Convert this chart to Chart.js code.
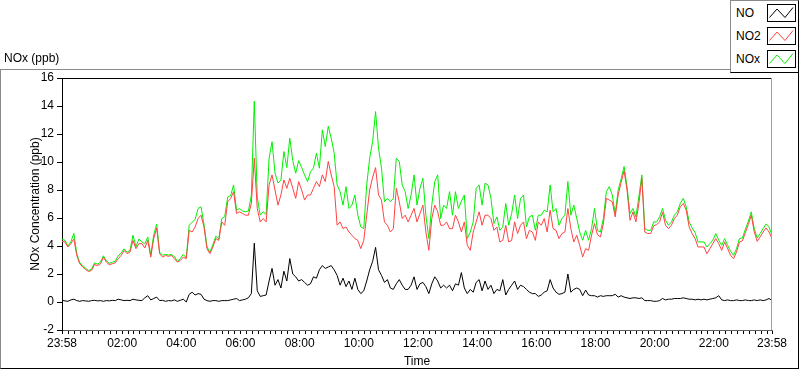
<!DOCTYPE html>
<html>
<head>
<meta charset="utf-8">
<script src="https://cdn.jsdelivr.net/npm/chart.js@4.4.0/dist/chart.umd.min.js"></script>
<style>
html, body { margin: 0; padding: 0; background: #fff; }
body { width: 800px; height: 369px; position: relative; overflow: hidden; font-family: "Liberation Sans", Arial, sans-serif; font-size: 12px; color: #000; }
#frame { position: absolute; left: 0; top: 69px; width: 799px; height: 300px; box-sizing: border-box; border-top: 1px solid #8a8a8a; border-left: 1px solid #8a8a8a; border-right: 1px solid #000; border-bottom: 1px solid #000; }
#chart { position: absolute; left: 0; top: 0; }
#title { position: absolute; left: 4px; top: 51px; }
#legend { position: absolute; left: 730px; top: 0; width: 69px; height: 73px; box-sizing: border-box; background: #fff; border-top: 1px solid #8a8a8a; border-left: 1px solid #8a8a8a; border-right: 1px solid #000; border-bottom: 1px solid #000; }
.row { position: absolute; left: 5px; width: 62px; height: 18px; }
.row span { position: absolute; left: 0; top: 2px; line-height: 14px; }
.row svg { position: absolute; left: 31px; top: 0; }
</style>
</head>
<body>
<div id="frame"></div>
<canvas id="chart" width="800" height="369"></canvas>
<div id="title">NOx (ppb)</div>
<div id="legend"></div>
<script>
// one reading every 6 minutes, first one at 23:58
const STEP_MIN = 6;

const tickMinutes = [0, 122, 242, 362, 482, 602, 722, 842, 962, 1082, 1202, 1322, 1440];
const tickLabels = ['23:58', '02:00', '04:00', '06:00', '08:00', '10:00', '12:00', '14:00', '16:00', '18:00', '20:00', '22:00', '23:58'];

const seriesNames = ['NO', 'NO2', 'NOx'];
const seriesColors = ['#000000', '#ff4242', '#00f000'];

const no = [
  0.12, 0.08, 0.05, 0.15, 0.2, 0.1, 0.05, 0.1, 0.08, 0.05, 0.1, 0.12, 0.08, 0.1, 0.05, 0.1, 0.08, 0.12, 0.1, 0.2,
  0.15, 0.1, 0.12, 0.1, 0.2, 0.15, 0.12, 0.1, 0.3, 0.45, 0.15, 0.25, 0.35, 0.1, 0.12, 0.05, 0.1, 0.08, 0.15, 0.05,
  0.12, 0.2,
  0.0, 0.55, 0.7, 0.5, 0.6, 0.55, 0.2, 0.1, 0.05, 0.1, 0.1, 0.05, 0.1, 0.1, 0.1, 0.15, 0.2, 0.25, 0.1, 0.15,
  0.2, 0.3, 0.6, 4.2, 0.8, 0.4, 0.45, 0.5, 1.5, 2.4, 1.2, 1.6, 1.0, 2.2, 1.5, 3.1, 2.0, 1.8, 1.5, 1.6,
  1.4, 1.2, 1.3, 1.8, 1.7, 2.3, 2.6, 2.4, 2.5, 2.6, 2.3, 1.9, 1.2, 1.7, 1.1, 1.5, 0.9, 1.7, 0.9, 0.6,
  0.8, 1.5, 2.3, 2.9, 3.9, 2.3, 1.9, 1.4, 1.6, 1.0, 0.9, 1.3, 1.6, 1.2, 0.9, 0.9, 1.2, 1.8, 0.9, 1.3, 1.4,
  1.1, 0.6, 1.3, 1.8, 1.5, 1.0, 1.2, 1.0, 1.2, 0.8, 1.3, 1.2, 2.1, 1.0, 0.6, 0.9, 0.7, 1.4, 1.6, 0.8,
  1.5, 0.9, 1.2, 0.6, 0.9, 0.8, 1.6, 0.5, 0.9, 1.2, 1.5, 0.9, 1.2, 1.1, 0.9, 0.7, 0.6, 0.6, 0.4, 0.5, 0.7,
  0.8, 1.6, 1.0, 0.7, 0.55, 0.6, 0.7, 2.0, 0.7, 0.9, 1.0, 0.9, 0.45, 0.85, 0.5, 0.45, 0.45, 0.35, 0.45, 0.4,
  0.45, 0.45, 0.45, 0.55, 0.35, 0.45, 0.35, 0.3, 0.25, 0.3, 0.3, 0.25, 0.3, 0.1, 0.1, 0.1, 0.05, 0.05, 0.1, 0.25,
  0.15, 0.2, 0.2, 0.25, 0.25, 0.25, 0.3, 0.25, 0.2, 0.2, 0.15, 0.2, 0.15, 0.2, 0.15, 0.2, 0.25, 0.3, 0.45, 0.15,
  0.1, 0.15, 0.1, 0.1, 0.15, 0.1, 0.1, 0.15, 0.1, 0.1, 0.15, 0.1, 0.15, 0.1, 0.15, 0.25, 0.1
];

const no2 = [
  4.33, 4.29, 3.93, 4.17, 4.5, 3.33, 2.73, 2.5, 2.32, 2.18, 2.25, 2.68, 2.6, 2.73, 3.2, 2.85, 2.66, 2.73, 2.8, 3.09,
  3.33, 3.69, 3.45, 3.57, 4.4, 3.81, 4.17, 4.17, 3.86, 4.4, 3.2, 4.53, 5.29, 3.45, 3.2, 3.33, 3.26, 3.33, 3.09, 2.85,
  2.97, 3.2,
  3.09, 5.12, 5.0, 5.36, 5.96, 6.2, 5.36, 3.81, 3.45, 3.93, 4.53, 4.4, 5.72, 5.48, 7.16, 7.4, 7.88, 6.32, 6.44, 6.32,
  6.2, 6.2, 7.04, 10.27, 6.68, 5.72, 5.96, 5.72, 8.36, 9.08, 8.0, 6.92, 7.64, 8.72, 8.12, 8.84, 8.12, 7.4, 8.6, 8.0,
  7.28, 7.64, 7.64, 8.12, 8.6, 8.24, 9.08, 8.6, 10.04, 9.08, 8.24, 5.48, 5.72, 5.24, 5.36, 5.0, 4.77, 4.53, 4.4, 3.81,
  4.4, 6.2, 8.0, 8.9, 9.6, 7.64, 7.28, 5.72, 5.48, 5.0, 5.24, 8.12, 7.16, 5.96, 6.2, 5.72, 6.2, 6.68, 5.72, 6.32, 6.92,
  5.0, 3.69, 5.96, 6.92, 6.44, 5.48, 5.48, 5.72, 5.24, 5.24, 6.2, 5.72, 5.0, 5.72, 4.05, 3.69, 5.0, 5.72, 6.44, 5.48,
  6.2, 6.2, 5.96, 5.12, 5.36, 4.29, 4.4, 5.48, 4.29, 4.4, 5.72, 4.89, 5.48, 5.72, 4.53, 5.12, 5.0, 4.4, 5.72, 5.48, 5.96,
  5.0, 6.56, 5.24, 5.12, 4.53, 4.89, 5.0, 6.68, 5.24, 4.29, 4.77, 4.05, 3.21, 3.81, 3.69, 4.77, 5.6, 4.81, 4.65, 5.6,
  7.4, 7.28, 7.16, 6.08, 7.64, 8.55, 9.36, 8.0, 5.84, 6.44, 5.72, 7.04, 8.84, 5.0, 4.89, 4.89, 5.44, 5.53, 5.72, 6.4,
  5.48, 5.24, 5.48, 5.96, 6.2, 6.8, 7.04, 6.56, 5.36, 4.89, 4.53, 3.93, 3.93, 3.93, 3.45, 3.81, 4.17, 4.53, 4.17, 3.69,
  4.29, 3.81, 3.33, 3.09, 3.57, 4.29, 4.36, 4.96, 5.53, 6.2, 5.0, 4.33, 4.65, 5.0, 5.29, 5.0, 4.53
];

const nox = [
  4.5, 4.4, 4.0, 4.3, 4.9, 3.45, 2.8, 2.6, 2.4, 2.25, 2.35, 2.8, 2.7, 2.85, 3.3, 2.95, 2.75, 2.85, 2.9, 3.3,
  3.5, 3.8, 3.55, 3.7, 4.77, 3.95, 4.5, 4.3, 4.15, 4.65, 3.35, 4.8, 5.55, 3.55, 3.35, 3.4, 3.35, 3.4, 3.25, 2.9,
  3.1, 3.4,
  3.15, 5.48, 5.7, 5.9, 6.68, 6.8, 5.55, 3.95, 3.55, 4.1, 4.7, 4.5, 5.95, 6.1, 7.5, 7.6, 8.36, 6.55, 6.68, 6.5,
  6.45, 6.5, 7.6, 14.35, 7.5, 6.2, 6.45, 6.25, 10.27, 11.45, 9.2, 8.5, 8.7, 10.75, 9.6, 11.71, 10.1, 9.2, 10.1, 9.6,
  9.08, 8.6, 9.3, 9.56, 10.63, 9.56, 12.3, 11.1, 12.55, 11.7, 10.63, 8.36, 7.88, 6.92, 8.24, 6.68, 6.92, 7.64, 6.2, 5.36,
  5.24, 8.36, 10.27, 11.47, 13.6, 10.99, 9.56, 7.16, 7.4, 7.16, 7.4, 10.27, 10.04, 8.36, 7.88, 6.68, 7.64, 9.08, 6.92, 8.12, 8.84,
  6.2, 4.53, 6.92, 8.6, 9.08, 5.96, 6.92, 6.68, 7.88, 6.2, 7.88, 6.68, 7.2, 7.64, 4.53, 5.0, 5.72, 8.12, 8.36, 6.92,
  8.48, 8.36, 7.4, 5.6, 6.08, 5.12, 5.36, 7.04, 5.48, 6.32, 7.64, 5.96, 7.4, 7.64, 5.36, 6.08, 6.2, 5.12, 6.2, 6.2, 6.56,
  6.44, 8.36, 6.44, 6.68, 5.48, 5.96, 6.2, 8.6, 6.2, 6.92, 5.96, 5.0, 4.41, 5.12, 4.41, 5.24, 6.68, 5.12, 5.0, 5.96,
  7.88, 8.24, 7.64, 6.32, 8.0, 8.79, 9.68, 8.24, 6.32, 6.68, 6.08, 7.52, 9.08, 5.24, 5.12, 5.12, 5.72, 5.72, 6.08, 6.68,
  5.84, 5.48, 5.72, 6.2, 6.44, 7.04, 7.4, 6.8, 5.72, 5.29, 4.96, 4.29, 4.29, 4.29, 3.93, 4.17, 4.41, 4.89, 4.41, 4.05,
  4.53, 4.05, 3.62, 3.33, 3.81, 4.53, 4.57, 5.2, 5.77, 6.44, 5.24, 4.57, 4.89, 5.24, 5.58, 5.36, 4.77
];

const font = { family: '"Liberation Sans", Arial, sans-serif', size: 12 };

// minor ticks every 12 minutes, lined up with the 2-hour marks
const allTicks = [0, 1440];
for (let m = 14; m < 1440; m += 12) allTicks.push(m);

function pts(arr) {
  return arr.map((v, i) => ({ x: i * STEP_MIN, y: v }));
}

// legend box, top right
const legendEl = document.getElementById('legend');
seriesNames.forEach((name, k) => {
  const row = document.createElement('div');
  row.className = 'row';
  row.style.top = (3 + k * 23) + 'px';
  row.innerHTML = `<span>${name}</span>
    <svg width="29" height="18" viewBox="0 0 29 18">
      <rect x="0.5" y="0.5" width="28" height="17" fill="#fff" stroke="#000"/>
      <polyline points="2.5,13.5 10,5 18,13.5 26,3.5" fill="none" stroke="${seriesColors[k]}" stroke-width="1"/>
    </svg>`;
  legendEl.appendChild(row);
});

// top and right edges of the plot area
const framePlugin = {
  id: 'frame',
  afterDraw(c) {
    const a = c.chartArea, g = c.ctx;
    g.save();
    g.lineWidth = 1;
    g.strokeStyle = '#000';
    g.beginPath();
    g.moveTo(a.left, a.top + 0.5);
    g.lineTo(a.right, a.top + 0.5);
    g.stroke();
    g.strokeStyle = '#a0a0a0';
    g.beginPath();
    g.moveTo(a.right - 0.5, a.top);
    g.lineTo(a.right - 0.5, a.bottom);
    g.stroke();
    g.restore();
  }
};

new Chart(document.getElementById('chart'), {
  type: 'line',
  data: {
    datasets: [no, no2, nox].map((arr, k) => ({
      label: seriesNames[k],
      data: pts(arr),
      borderColor: seriesColors[k],
      borderWidth: 1,
      pointRadius: 0,
      tension: 0,
      fill: false
    }))
  },
  options: {
    responsive: false,
    animation: false,
    devicePixelRatio: 1,
    layout: { padding: { top: 78, right: 28, left: 0, bottom: 0 } },
    plugins: { legend: { display: false }, tooltip: { enabled: false } },
    scales: {
      x: {
        type: 'linear',
        min: 0,
        max: 1440,
        afterBuildTicks: s => { s.ticks = allTicks.map(v => ({ value: v })); },
        afterFit: s => { s.height = 39; },
        grid: { drawOnChartArea: false, tickLength: 4, color: '#000' },
        border: { color: '#606060' },
        ticks: {
          autoSkip: false,
          maxRotation: 0,
          padding: 2,
          color: '#000',
          font: font,
          callback: v => {
            const k = tickMinutes.indexOf(v);
            return k < 0 ? '' : tickLabels[k];
          }
        },
        title: { display: true, text: 'Time', color: '#000', font: font, padding: { top: 2, bottom: 0 } }
      },
      y: {
        min: -2,
        max: 16,
        afterFit: s => { s.width = 62; },
        ticks: { stepSize: 2, color: '#000', font: font, padding: 3 },
        grid: { drawOnChartArea: false, tickLength: 5, color: '#000' },
        border: { color: '#000' },
        title: { display: true, text: 'NOx Concentration (ppb)', color: '#000', font: font, padding: { top: 28, bottom: 0 } }
      }
    }
  },
  plugins: [framePlugin]
});
</script>
</body>
</html>
